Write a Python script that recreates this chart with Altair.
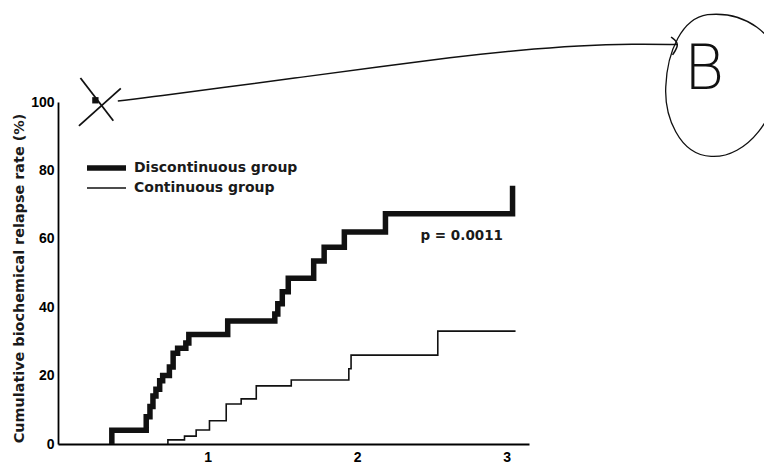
import altair as alt
import pandas as pd

# ---- data (years, cumulative %) ----
disc_time = [0.36, 0.36, 0.59, 0.615, 0.635, 0.655, 0.68, 0.70, 0.745, 0.77, 0.80, 0.855, 0.875,
             1.135, 1.45, 1.47, 1.50, 1.54, 1.71, 1.78, 1.915, 2.19, 3.04, 3.04]
disc_rate = [0, 4, 8, 11, 14, 16, 18.5, 20, 22.5, 26.5, 28, 29.5, 32,
             36, 38, 41, 44.5, 48.5, 53.5, 57.5, 62, 67.3, 67.3, 75.5]

cont_time = [0.735, 0.735, 0.846, 0.924, 1.013, 1.125, 1.225, 1.326, 1.56, 1.945, 1.96, 2.54, 3.06]
cont_rate = [0, 1.2, 2.3, 4.1, 6.8, 11.7, 13.2, 17, 18.7, 22, 26, 33, 33]

legend_labels = ["Discontinuous group", "Continuous group"]
y_ticks = [0, 20, 40, 60, 80, 100]
x_ticks = [1, 2, 3]
p_label = ["p = 0.0011"]
p_pos = [2.70, 60.8]

# handwritten annotations (data units of the plot)
xmark_x1 = [0.15, 0.42]
xmark_y1 = [107.0, 104.0]
xmark_x2 = [0.37, 0.14]
xmark_y2 = [94.5, 93.0]
arrow_x = [0.40, 0.68, 1.08, 1.62, 2.15, 2.62, 3.09, 3.49, 3.85, 4.14]
arrow_y = [100.3, 101.7, 104.1, 107.2, 110.3, 113.0, 115.2, 116.5, 117.0, 116.8]
head_x = [4.10, 4.16, 4.11]
head_y = [119.0, 117.0, 113.8]
b_pos = [4.32, 109.5]
circle_pos = [4.44, 104.5]

FONT = "DejaVu Sans"
NUM_FONT = "Liberation Sans"
INK = "#111111"

disc_df = pd.DataFrame({"time": disc_time, "rate": disc_rate})
cont_df = pd.DataFrame({"time": cont_time, "rate": cont_rate})

xs = alt.Scale(domain=[0, 3.15], nice=False, zero=False)
ys = alt.Scale(domain=[0, 100], nice=False)

x_enc = alt.X("time:Q", scale=xs, title="",
              axis=alt.Axis(values=x_ticks, ticks=False, grid=False, labelFont=NUM_FONT,
                            labelFontSize=14, labelFontWeight="bold", labelColor="black",
                            labelPadding=6, domainColor="black", domainWidth=1.8,
                            format="d"))
y_enc = alt.Y("rate:Q", scale=ys,
              title="Cumulative biochemical relapse rate (%)",
              axis=alt.Axis(values=y_ticks, ticks=False, grid=False, labelFont=NUM_FONT,
                            labelFontSize=14, labelFontWeight="bold", labelColor="black",
                            labelPadding=4, domainColor="black", domainWidth=1.8,
                            titleFont=FONT, titleFontSize=14.4, titleFontWeight="bold",
                            titleColor="#1a1a1a", titleX=-32, titleY=176,
                            titleBaseline="bottom"))

disc = alt.Chart(disc_df).mark_line(interpolate="step-after", strokeWidth=5.5, color=INK,
                                    strokeCap="butt").encode(x=x_enc, y=y_enc)
cont = alt.Chart(cont_df).mark_line(interpolate="step-after", strokeWidth=1.6, color=INK
                                    ).encode(x="time:Q", y="rate:Q")

one = pd.DataFrame({"a": [0]})
leg_thick = alt.Chart(one).mark_rule(strokeWidth=5.5, color=INK).encode(
    x=alt.value(29), x2=alt.value(68), y=alt.value(66))
leg_thin = alt.Chart(one).mark_rule(strokeWidth=1.6, color=INK).encode(
    x=alt.value(29), x2=alt.value(68), y=alt.value(86))
leg_text = alt.Chart(pd.DataFrame({"label": legend_labels, "yy": [66, 86]})).mark_text(
    align="left", baseline="middle", font=FONT, fontSize=14, fontWeight="bold", color="#1a1a1a"
).encode(x=alt.value(76), y=alt.Y("yy:Q", scale=None), text="label:N")

p_text = alt.Chart(pd.DataFrame({"t": [p_pos[0]], "r": [p_pos[1]], "label": p_label})).mark_text(
    align="center", baseline="middle", font=FONT, fontSize=13.5, fontWeight="bold", color="#1a1a1a"
).encode(x="t:Q", y="r:Q", text="label:N")

# annotations
xmark = alt.Chart(pd.DataFrame({"x1": xmark_x1, "y1": xmark_y1, "x2": xmark_x2, "y2": xmark_y2})
                  ).mark_rule(strokeWidth=1.8, color=INK).encode(
    x="x1:Q", y="y1:Q", x2="x2:Q", y2="y2:Q")
xdot = alt.Chart(pd.DataFrame({"x": [0.25], "y": [100.5]})).mark_point(
    shape="square", size=40, filled=True, color=INK, opacity=1).encode(x="x:Q", y="y:Q")
arrow = alt.Chart(pd.DataFrame({"x": arrow_x, "y": arrow_y, "o": list(range(len(arrow_x)))})
                  ).mark_line(interpolate="basis", strokeWidth=1.5, color=INK).encode(
    x="x:Q", y="y:Q", order="o:Q")
head = alt.Chart(pd.DataFrame({"x": head_x, "y": head_y, "o": [0, 1, 2]})).mark_line(
    interpolate="basis", strokeWidth=1.5, color=INK).encode(x="x:Q", y="y:Q", order="o:Q")
btext = alt.Chart(pd.DataFrame({"x": [b_pos[0]], "y": [b_pos[1]], "t": ["B"]})).mark_text(
    font=FONT, fontSize=62, fontWeight=200, color=INK, align="center", baseline="middle"
).encode(x="x:Q", y="y:Q", text="t:N")
egg = ("M -0.2,-1 C 0.3,-1.05 0.8,-0.75 0.8,-0.2 C 0.8,0.4 0.35,1.0 -0.15,0.97 "
       "C -0.6,0.95 -0.8,0.4 -0.78,0 C -0.76,-0.5 -0.55,-0.95 -0.2,-1 Z")
circle = alt.Chart(pd.DataFrame({"x": [circle_pos[0]], "y": [circle_pos[1]]})).mark_point(
    shape=egg, size=20700, filled=False, color=INK, strokeWidth=1.3, opacity=1
).encode(x="x:Q", y="y:Q")

chart = alt.layer(disc, cont, leg_thick, leg_thin, leg_text, p_text,
                  xmark, xdot, arrow, head, btext, circle).properties(
    width=471, height=342,
    padding={"left": 50, "top": 94, "right": 235, "bottom": 20},
    autosize=alt.AutoSizeParams(type="none"),
    background="white",
).configure_view(stroke=None)

chart.save("out.html", embed_options={"renderer": "svg", "actions": False})
